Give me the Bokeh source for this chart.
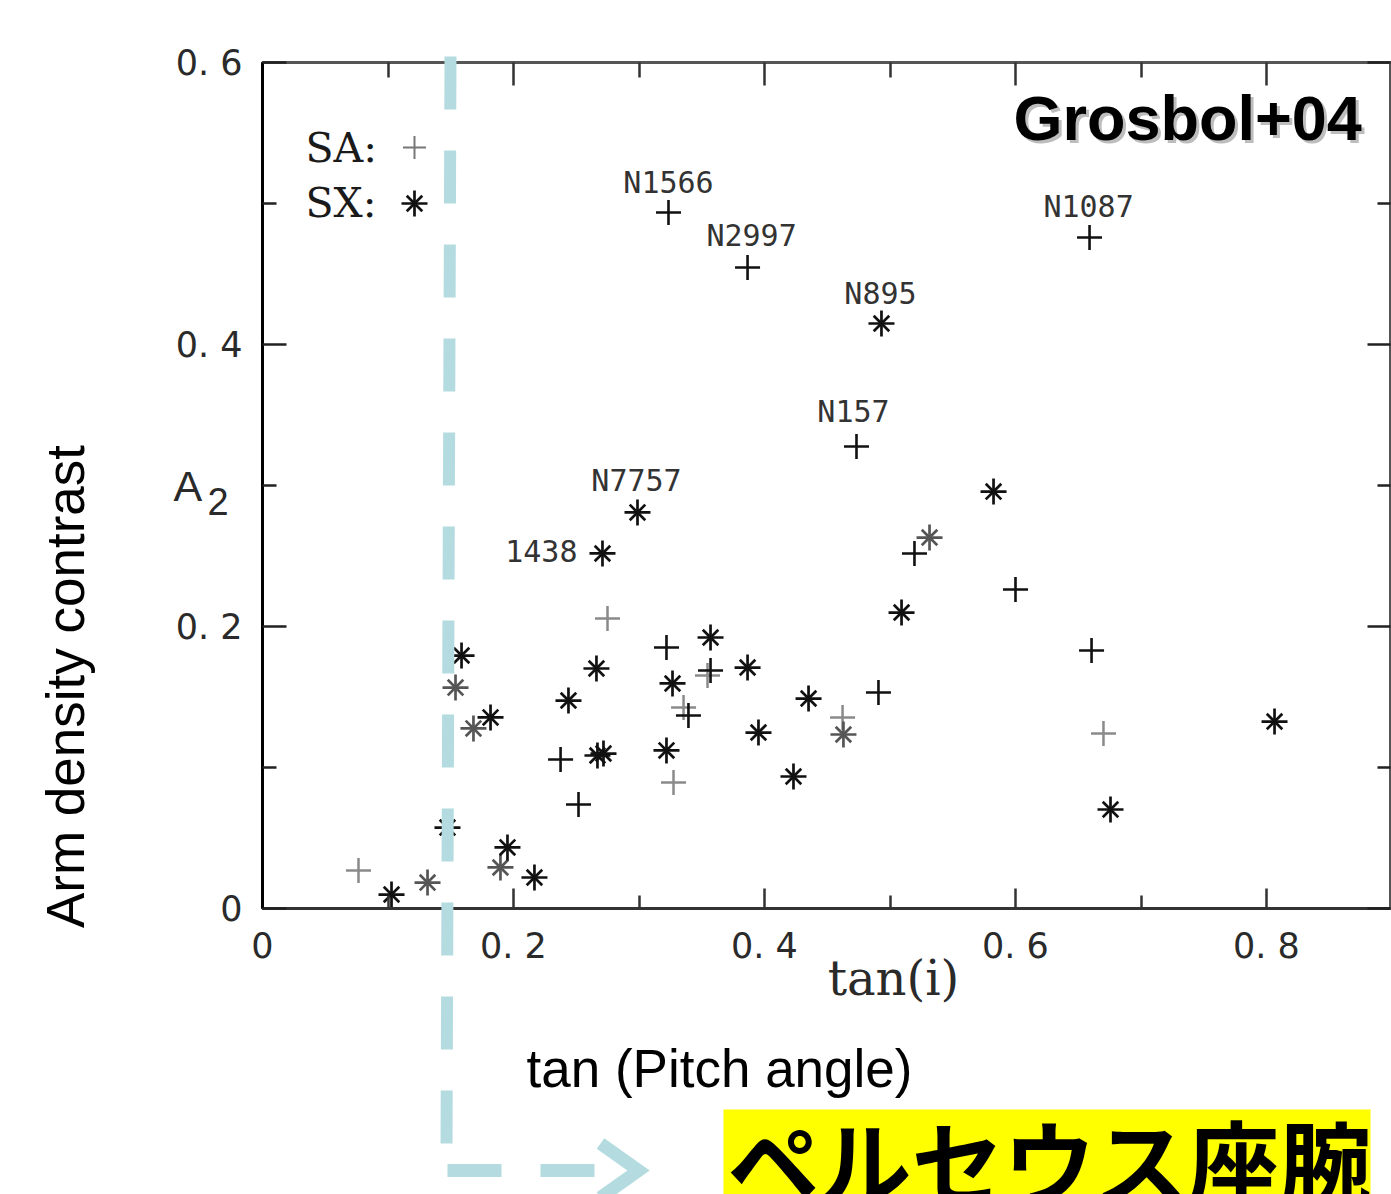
import numpy as np
from bokeh.plotting import figure
from bokeh.models import (Range1d, LinearAxis, FixedTicker, LabelSet, ColumnDataSource,
                          CustomLabelingPolicy)
from bokeh.core.properties import value
from bokeh.embed import file_html
from bokeh.resources import INLINE

# ---------------- data ----------------
# SA sample (plus), dark symbols
sa_x = [0.3235, 0.3865, 0.6590, 0.4733, 0.5195, 0.6000, 0.6606, 0.4908, 0.3219, 0.3570, 0.3394, 0.2375, 0.2518]
sa_y = [0.4936, 0.4546, 0.4759, 0.3277, 0.2518, 0.2262, 0.1830, 0.1532, 0.1851, 0.1688, 0.1369, 0.1057, 0.0738]
sa_name = ["N1566", "N2997", "N1087", "N157", "", "", "", "", "", "", "", "", ""]
# SA sample (plus), faint symbols
sa_faint_x = [0.0765, 0.2749, 0.3275, 0.6701, 0.4622, 0.3546, 0.3355]
sa_faint_y = [0.0270, 0.2057, 0.0894, 0.1241, 0.1355, 0.1652, 0.1426]
# SX sample (asterisk), dark symbols
sx_x = [0.4932, 0.2988, 0.2709, 0.5825, 0.5092, 0.8064, 0.6757, 0.3570, 0.3865, 0.2661, 0.2438, 0.3267,
        0.4351, 0.3952, 0.4231, 0.3219, 0.2669, 0.2717, 0.1817, 0.1586, 0.1474, 0.1952, 0.2167, 0.1028]
sx_y = [0.4149, 0.2809, 0.2518, 0.2957, 0.2099, 0.1326, 0.0702, 0.1922, 0.1709, 0.1702, 0.1475, 0.1596,
        0.1489, 0.1248, 0.0936, 0.1121, 0.1085, 0.1099, 0.1355, 0.1794, 0.0574, 0.0433, 0.0220, 0.0099]
sx_name = ["N895", "N7757", "1438"] + [""] * 21
# SX sample (asterisk), faint symbols
sx_faint_x = [0.5315, 0.4629, 0.1681, 0.1538, 0.1315, 0.1896]
sx_faint_y = [0.2631, 0.1234, 0.1277, 0.1567, 0.0184, 0.0291]

x_ticks = [0, 0.2, 0.4, 0.6, 0.8]
x_minor = [0.1, 0.3, 0.5, 0.7]
x_tick_labels = ["0", "0. 2", "0. 4", "0. 6", "0. 8"]
y_ticks = [0, 0.2, 0.4, 0.6]
y_minor = [0.1, 0.3, 0.5]
y_tick_labels = ["0", "0. 2", "0. 4", "0. 6"]

# ---------------- layout helpers (reference pixel -> data) ----------------
def dx(px):
    return (px - 262) / 1255.0

def dy(py):
    return (908 - py) / 1410.0

CYAN = "#b4dce0"

p = figure(width=1391, height=1194, x_range=Range1d(0, 1128 / 1255.0), y_range=Range1d(0, 0.6),
           output_backend="svg", toolbar_location=None,
           min_border_left=262, min_border_right=1, min_border_top=62, min_border_bottom=286)
p.grid.visible = False
p.background_fill_color = "white"
p.border_fill_color = "white"
p.outline_line_color = "#555555"
p.outline_line_width = 3

xt = FixedTicker(ticks=x_ticks, minor_ticks=x_minor)
yt = FixedTicker(ticks=y_ticks, minor_ticks=y_minor)

bx = p.xaxis[0]
bx.ticker = xt
bx.major_label_overrides = {t: l for t, l in zip(x_ticks, x_tick_labels)}
bx.major_tick_in = 20
bx.major_tick_out = 0
bx.minor_tick_in = 13
bx.minor_tick_out = 0
bx.major_tick_line_color = "#333333"
bx.minor_tick_line_color = "#333333"
bx.major_tick_line_width = 2.5
bx.minor_tick_line_width = 2.5
bx.axis_line_color = "#333333"
bx.axis_line_width = 3
bx.major_label_standoff = 17
bx.major_label_text_font = "DejaVu Sans"
bx.major_label_text_font_size = "35px"
bx.major_label_text_color = "#2a2a2a"

ly = p.yaxis[0]
ly.ticker = yt
ly.major_label_overrides = {t: l for t, l in zip(y_ticks, y_tick_labels)}
ly.major_tick_in = 24
ly.major_tick_out = 0
ly.minor_tick_in = 14
ly.minor_tick_out = 0
ly.major_tick_line_color = "#222222"
ly.minor_tick_line_color = "#222222"
ly.major_tick_line_width = 2.5
ly.minor_tick_line_width = 2.5
ly.axis_line_color = "black"
ly.axis_line_width = 3
ly.major_label_standoff = 20
ly.major_label_text_font = "DejaVu Sans"
ly.major_label_text_font_size = "35px"
ly.major_label_text_color = "#2a2a2a"

no_labels = "for (const i of indices) indices.unset(i)"
top = LinearAxis(ticker=xt, major_label_text_font_size="0px", major_label_standoff=0,
                 major_label_policy=CustomLabelingPolicy(code=no_labels),
                 major_tick_in=23, major_tick_out=0, minor_tick_in=15, minor_tick_out=0,
                 major_tick_line_width=2.5, minor_tick_line_width=2.5,
                 major_tick_line_color="#333333", minor_tick_line_color="#333333",
                 axis_line_color=None)
p.add_layout(top, "above")
right = LinearAxis(ticker=yt, major_label_text_font_size="0px", major_label_standoff=0,
                   major_label_policy=CustomLabelingPolicy(code=no_labels),
                   major_tick_in=23, major_tick_out=0, minor_tick_in=13, minor_tick_out=0,
                   major_tick_line_width=2.5, minor_tick_line_width=2.5,
                   major_tick_line_color="#222222", minor_tick_line_color="#222222",
                   axis_line_color=None)
p.add_layout(right, "right")

# ---------------- markers ----------------
src_sa = ColumnDataSource(dict(x=sa_x, y=sa_y))
src_saf = ColumnDataSource(dict(x=sa_faint_x, y=sa_faint_y))
src_sx = ColumnDataSource(dict(x=sx_x, y=sx_y))
src_sxf = ColumnDataSource(dict(x=sx_faint_x, y=sx_faint_y))

p.scatter("x", "y", source=src_saf, marker="cross", size=25, line_color="#8a8a8a", line_width=2.5)
p.scatter("x", "y", source=src_sa, marker="cross", size=25, line_color="#111111", line_width=2.6)
for src, col in [(src_sxf, "#555555"), (src_sx, "#111111")]:
    p.scatter("x", "y", source=src, marker="cross", size=26, line_color=col, line_width=2.7)
    p.scatter("x", "y", source=src, marker="x", size=22, line_color=col, line_width=2.7)

# legend symbols (label then symbol, as in the original figure)
p.scatter([dx(414)], [dy(147)], marker="cross", size=23, line_color="#777777", line_width=2)
p.scatter([dx(414)], [dy(203)], marker="cross", size=26, line_color="#111111", line_width=2.7)
p.scatter([dx(414)], [dy(203)], marker="x", size=22, line_color="#111111", line_width=2.7)

# ---------------- galaxy names ----------------
name_offsets = {"N1566": (0, 30), "N2997": (4, 32), "N1087": (-1, 31), "N157": (-3, 35),
                "N895": (-1, 30), "N7757": (-1, 32), "1438": (-25, 2)}
up = dict(x=[], y=[], text=[], xo=[], yo=[])
left = dict(x=[], y=[], text=[], xo=[], yo=[])
for xs, ys, ns in [(sa_x, sa_y, sa_name), (sx_x, sx_y, sx_name)]:
    for xv, yv, nm in zip(xs, ys, ns):
        if not nm:
            continue
        o = name_offsets[nm]
        d = left if nm == "1438" else up
        d["x"].append(xv); d["y"].append(yv); d["text"].append(nm)
        d["xo"].append(o[0]); d["yo"].append(o[1])

p.add_layout(LabelSet(x="x", y="y", text="text", x_offset="xo", y_offset="yo",
                      source=ColumnDataSource(up), text_align="center", text_baseline="middle",
                      text_font=value("DejaVu Sans Mono"), text_font_size="30px",
                      text_color="#333333"))
p.add_layout(LabelSet(x="x", y="y", text="text", x_offset="xo", y_offset="yo",
                      source=ColumnDataSource(left), text_align="right", text_baseline="middle",
                      text_font=value("DejaVu Sans Mono"), text_font_size="30px",
                      text_color="#333333"))

# ---------------- free texts (glyphs on the overlay level, so they may leave the frame) ----
def add_text(px, py, text, font, size, color="black", align="left", style="normal", angle=0.0):
    # (px, py): wanted baseline anchor in page pixels; compensate the renderer's baseline shift
    s = float(size.replace("px", ""))
    px = px - 0.375 * s * np.sin(angle)
    py = py - 0.375 * s * np.cos(angle)
    p.text(x=[dx(px)], y=[dy(py)], text=[text], text_font=value(font),
           text_font_size=value(size), text_color=color, text_align=align,
           text_baseline="alphabetic", text_font_style=style, angle=angle, level="overlay")

add_text(305, 163, "SA:", "DejaVu Serif", "41px", "#1a1a1a")
add_text(305, 218, "SX:", "DejaVu Serif", "41px", "#1a1a1a")
add_text(173, 502, "A", "Liberation Sans", "43px", "#2a2a2a")
add_text(207, 515, "2", "Liberation Sans", "38px", "#2a2a2a")
add_text(893, 995, "tan(i)", "DejaVu Serif", "48px", "#2a2a2a", align="center")

add_text(85, 686, "Arm density contrast", "Liberation Sans", "53px", align="center", angle=np.pi / 2)
add_text(719, 1088, "tan (Pitch angle)", "Liberation Sans", "53px", align="center")
add_text(1016, 144, "Grosbol+04", "Liberation Sans", "63px", "#bdbdbd", style="bold")
add_text(1013, 141, "Grosbol+04", "Liberation Sans", "63px", "black", style="bold")

# yellow box with the Japanese caption
p.quad(left=[dx(723)], right=[dx(1370)], top=[dy(1109)], bottom=[dy(1200)],
       fill_color="#ffff00", line_color=None, level="overlay")
add_text(727, 1192, "ペルセウス座腕", "Noto Sans CJK JP", "92px", "black", style="bold")

# cyan dashed guide: vertical then horizontal with open arrow head
p.line([dx(450), dx(446)], [dy(56), dy(1150)], line_color=CYAN, line_width=12,
       line_dash="53 41", line_cap="butt", level="overlay")
p.line([dx(447), dx(594)], [dy(1170), dy(1170)], line_color=CYAN, line_width=13,
       line_dash="54 39", line_cap="butt", level="overlay")
p.line([dx(600), dx(638), dx(600)], [dy(1143), dy(1170), dy(1197)], line_color=CYAN,
       line_width=13, line_join="miter", line_cap="butt", level="overlay")

open("out.html", "w").write(file_html(p, INLINE))
